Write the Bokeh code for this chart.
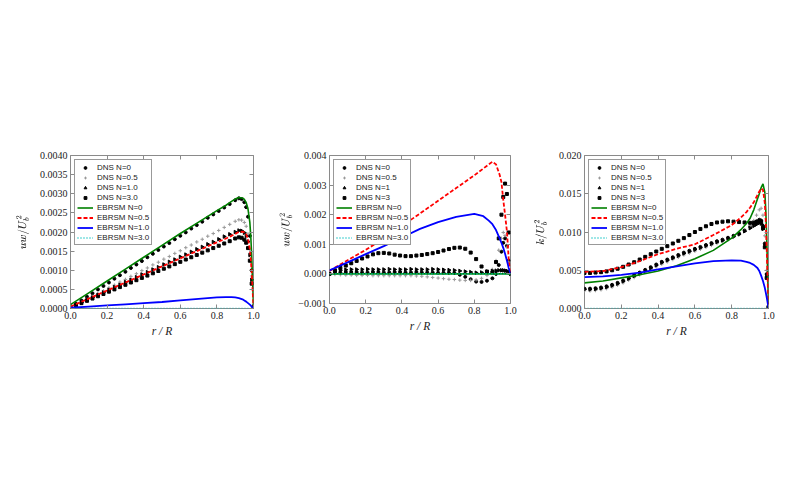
import math
from bokeh.plotting import figure
from bokeh.models import (FixedTicker, CustomJSTickFormatter, LinearAxis,
                          Legend, LegendItem, Range1d)
from bokeh.layouts import row
from bokeh.embed import file_html
from bokeh.resources import INLINE

# ---------------- data ----------------
R_DNS = [0.00, 0.03, 0.06, 0.09, 0.12, 0.15, 0.18, 0.21, 0.24, 0.27, 0.30, 0.33, 0.36,
         0.39, 0.42, 0.45, 0.48, 0.51, 0.54, 0.57, 0.60, 0.63, 0.66, 0.69, 0.72, 0.75,
         0.78, 0.81, 0.84, 0.87, 0.90, 0.92, 0.935, 0.95, 0.96, 0.97, 0.98, 0.99, 1.00]
R_LINE = [0.0, 0.1, 0.2, 0.3, 0.4, 0.5, 0.6, 0.7, 0.8, 0.85, 0.88, 0.9, 0.92, 0.94,
          0.95, 0.96, 0.97, 0.98, 0.985, 0.99, 0.995, 1.0]

# panel 1 : uw / Ub^2  (values in units of 1e-4)
P1_DNS_N0 = [0.3, 1.2, 2.1, 3.1, 4.0, 5.0, 5.9, 6.8, 7.8, 8.7, 9.6, 10.6, 11.5, 12.4, 13.4,
             14.3, 15.3, 16.2, 17.1, 18.1, 19.0, 19.9, 20.9, 21.8, 22.7, 23.7, 24.6, 25.5,
             26.4, 27.3, 28.3, 28.8, 28.6, 27.8, 26.5, 24.0, 19.0, 10.0, 0.5]
P1_DNS_N05 = [0.2, 0.9, 1.6, 2.4, 3.1, 3.9, 4.6, 5.4, 6.1, 6.9, 7.6, 8.4, 9.1, 9.9, 10.6,
              11.4, 12.1, 12.9, 13.6, 14.4, 15.1, 15.9, 16.6, 17.4, 18.1, 18.9, 19.6, 20.4,
              21.2, 22.0, 22.8, 23.2, 23.1, 22.5, 21.5, 19.5, 15.5, 8.5, 0.5]
P1_DNS_N1 = [0.3, 0.9, 1.6, 2.3, 2.9, 3.6, 4.2, 4.9, 5.6, 6.2, 6.9, 7.5, 8.2, 8.9, 9.5,
             10.2, 10.8, 11.5, 12.2, 12.8, 13.5, 14.1, 14.8, 15.5, 16.1, 16.8, 17.4, 18.1,
             18.8, 19.4, 20.0, 20.4, 20.3, 19.8, 19.0, 17.5, 14.0, 7.5, 0.5]
P1_DNS_N3 = [0.2, 0.8, 1.4, 2.0, 2.6, 3.2, 3.8, 4.4, 5.0, 5.6, 6.2, 6.8, 7.4, 8.0, 8.6,
             9.2, 9.8, 10.4, 11.0, 11.6, 12.2, 12.8, 13.4, 14.0, 14.6, 15.2, 15.8, 16.4,
             17.0, 17.6, 18.3, 18.6, 18.5, 18.0, 17.2, 15.8, 12.5, 6.5, 0.3]
P1_EB_N0 = [1.0, 4.1, 7.2, 10.3, 13.4, 16.5, 19.6, 22.6, 25.6, 27.0, 28.0, 28.6, 29.0, 28.9,
            28.5, 27.7, 26.0, 22.5, 19.0, 14.0, 7.5, 0.5]
P1_EB_N05 = [0.5, 2.6, 4.7, 6.8, 8.9, 11.0, 13.1, 15.2, 17.3, 18.3, 19.0, 19.5, 20.0, 20.1,
             19.9, 19.4, 18.2, 15.5, 13.0, 9.5, 5.0, 0.3]
P1_EB_N1 = [0.2, 0.5, 0.8, 1.1, 1.4, 1.7, 2.1, 2.5, 2.9, 3.0, 3.0, 2.9, 2.7, 2.4, 2.1, 1.8,
            1.4, 1.0, 0.8, 0.5, 0.3, 0.1]
P1_EB_N3 = [0.0, 0.0, 0.0, 0.0, 0.0, 0.0, 0.0, 0.0, 0.0, 0.0, 0.0, 0.0, 0.0, 0.0, 0.0, 0.0,
            0.0, 0.0, 0.0, 0.0, 0.0, 0.0]

# panel 2 : uw / Ub^2  (values in units of 1e-4)
P2_DNS_N0 = [0.0, 0.3, 0.5, 0.6, 0.6, 0.6, 0.5, 0.5, 0.6, 0.6, 0.5, 0.5, 0.6, 0.6, 0.5,
             0.5, 0.6, 0.5, 0.5, 0.5, 0.4, 0.4, 0.4, 0.3, -0.3, -1.0, -1.8, -2.6, -2.7,
             -2.3, -1.5, 0.0, 3.0, 7.5, 10.5, 12.0, 9.5, 4.5, 0.0]
P2_DNS_N05 = [0.0, -0.2, -0.3, -0.4, -0.4, -0.5, -0.5, -0.5, -0.6, -0.6, -0.6, -0.6, -0.6,
              -0.6, -0.6, -0.6, -0.7, -0.8, -1.0, -1.2, -1.4, -1.6, -1.8, -1.9, -2.1, -2.2,
              -2.2, -2.0, -1.5, -0.5, 1.5, 4.5, 8.0, 12.0, 14.0, 13.0, 9.0, 4.0, 0.0]
P2_DNS_N1 = [0.0, 0.8, 1.2, 1.4, 1.5, 1.5, 1.5, 1.6, 1.5, 1.5, 1.5, 1.6, 1.5, 1.5, 1.5,
             1.6, 1.5, 1.5, 1.5, 1.6, 1.5, 1.4, 1.3, 1.2, 1.0, 0.8, 0.6, 0.4, 0.5, 0.8,
             1.0, 1.1, 1.2, 1.2, 1.2, 1.1, 1.0, 0.6, 0.0]
P2_DNS_N3 = [0.0, 1.2, 2.0, 2.8, 3.6, 4.4, 5.2, 5.9, 6.6, 7.0, 7.1, 6.9, 6.5, 6.2, 6.0,
             6.0, 6.2, 6.4, 6.7, 7.0, 7.4, 7.9, 8.4, 8.8, 8.9, 8.5, 7.2, 5.0, 2.5, 0.8,
             0.5, 4.0, 12.0, 20.0, 26.0, 30.5, 27.0, 14.0, 0.5]
P2_EB_N0 = [0.0, 0.0, 0.0, 0.0, 0.0, 0.0, 0.0, 0.0, 0.0, 0.0, 0.0, 0.0, 0.0, 0.0, 0.0, 0.0,
            0.0, 0.0, 0.0, 0.0, 0.0, 0.0]
P2_EB_N05 = [1.0, 4.6, 8.1, 12.0, 16.2, 20.4, 24.7, 29.0, 33.3, 35.6, 37.0, 37.9, 37.0,
             33.5, 31.0, 25.0, 20.0, 14.5, 10.0, 5.0, 2.5, 0.3]
P2_EB_N1 = [1.2, 3.9, 6.7, 9.4, 12.3, 15.2, 17.5, 19.3, 20.3, 19.5, 18.0, 16.8, 14.8, 12.0,
            10.5, 8.8, 6.8, 4.5, 3.3, 2.0, 1.0, 0.1]
P2_EB_N3 = [0.0, 0.0, 0.0, 0.0, 0.0, 0.0, 0.0, 0.0, 0.0, 0.0, 0.0, 0.0, 0.0, 0.0, 0.0, 0.0,
            0.0, 0.0, 0.0, 0.0, 0.0, 0.0]

# panel 3 : k / Ub^2  (values in units of 1e-3)
P3_DNS_N0 = [2.6, 2.6, 2.65, 2.75, 2.9, 3.1, 3.35, 3.65, 4.0, 4.35, 4.7, 5.05, 5.4, 5.75,
             6.1, 6.4, 6.7, 7.0, 7.3, 7.55, 7.8, 8.05, 8.3, 8.55, 8.8, 9.0, 9.25, 9.5, 9.8,
             10.2, 10.7, 11.1, 11.4, 11.6, 11.5, 10.8, 8.5, 4.5, 0.2]
P3_DNS_N05 = [2.3, 2.3, 2.35, 2.45, 2.6, 2.8, 3.05, 3.35, 3.7, 4.05, 4.4, 4.75, 5.1, 5.45,
              5.8, 6.1, 6.4, 6.7, 7.0, 7.25, 7.5, 7.75, 8.0, 8.25, 8.5, 8.75, 9.0, 9.3,
              9.65, 10.1, 10.8, 11.5, 12.2, 12.9, 13.1, 12.2, 9.5, 5.0, 0.2]
P3_DNS_N1 = [2.5, 2.5, 2.55, 2.65, 2.8, 3.0, 3.25, 3.55, 3.9, 4.25, 4.6, 4.95, 5.3, 5.65,
             6.0, 6.3, 6.6, 6.9, 7.2, 7.45, 7.7, 7.95, 8.2, 8.45, 8.7, 8.9, 9.15, 9.4, 9.7,
             10.1, 10.5, 10.8, 11.0, 11.2, 11.1, 10.4, 8.2, 4.3, 0.2]
P3_DNS_N3 = [4.65, 4.65, 4.7, 4.75, 4.85, 5.0, 5.2, 5.45, 5.75, 6.05, 6.4, 6.75, 7.1, 7.45,
             7.8, 8.15, 8.5, 8.85, 9.2, 9.6, 10.0, 10.4, 10.75, 11.05, 11.25, 11.35, 11.4,
             11.35, 11.3, 11.25, 11.2, 11.2, 11.3, 11.4, 11.3, 10.5, 8.0, 4.0, 0.2]
P3_EB_N0 = [3.35, 3.6, 4.0, 4.4, 4.9, 5.6, 6.5, 7.6, 9.2, 10.3, 11.1, 11.8, 12.9, 14.3,
            15.0, 15.8, 16.3, 15.2, 13.0, 9.5, 5.0, 0.3]
P3_EB_N05 = [4.8, 4.9, 5.4, 6.2, 7.1, 7.8, 8.4, 9.6, 10.9, 11.9, 12.6, 13.2, 13.9, 14.8,
             15.3, 15.7, 15.5, 13.8, 11.5, 8.0, 4.0, 0.3]
P3_EB_N1 = [4.1, 4.2, 4.4, 4.7, 5.1, 5.5, 5.9, 6.2, 6.3, 6.25, 6.1, 5.95, 5.7, 5.3, 4.9,
            4.3, 3.6, 2.7, 2.1, 1.5, 0.8, 0.1]
P3_EB_N3 = [0.0, 0.0, 0.0, 0.0, 0.0, 0.0, 0.0, 0.0, 0.0, 0.0, 0.0, 0.0, 0.0, 0.0, 0.0, 0.0,
            0.0, 0.0, 0.0, 0.0, 0.0, 0.0]

X_TICKS = [0.0, 0.2, 0.4, 0.6, 0.8, 1.0]
P1_YTICKS = [0.0, 0.0005, 0.001, 0.0015, 0.002, 0.0025, 0.003, 0.0035, 0.004]
P2_YTICKS = [-0.001, 0.0, 0.001, 0.002, 0.003, 0.004]
P3_YTICKS = [0.0, 0.005, 0.01, 0.015, 0.02]

LABELS_P1 = ["DNS N=0", "DNS N=0.5", "DNS N=1.0", "DNS N=3.0",
             "EBRSM N=0", "EBRSM N=0.5", "EBRSM N=1.0", "EBRSM N=3.0"]
LABELS_P23 = ["DNS N=0", "DNS N=0.5", "DNS N=1", "DNS N=3",
              "EBRSM N=0", "EBRSM N=0.5", "EBRSM N=1.0", "EBRSM N=3.0"]

# ---------------- styling ----------------
FRAME = "#8a8a8a"
TXT = "#222222"
SERIF = "Liberation Serif"
SANS = "Liberation Sans"


def sc(values, f):
    return [v * f for v in values]


def make_panel(ymin, ymax, yticks, ydigits, fw, fh, bl, br, bt, bb, ylab, ystand):
    p = figure(frame_width=fw, frame_height=fh, x_range=Range1d(0, 1),
               y_range=Range1d(ymin, ymax), output_backend="svg", toolbar_location=None,
               min_border_left=bl, min_border_right=br, min_border_top=bt,
               min_border_bottom=bb, background_fill_color="white",
               border_fill_color="white")
    p.grid.visible = False
    p.outline_line_color = FRAME
    p.outline_line_width = 1
    bx = p.below[0]
    ly = p.left[0]
    ycode = ("return (tick < -1e-12 ? '\u2212' : '') + Math.abs(tick).toFixed(%d);"
             % ydigits)
    empty = CustomJSTickFormatter(code="return '';")
    bx.ticker = FixedTicker(ticks=X_TICKS, minor_ticks=[])
    bx.formatter = CustomJSTickFormatter(code="return tick.toFixed(1);")
    ly.ticker = FixedTicker(ticks=yticks, minor_ticks=[])
    ly.formatter = CustomJSTickFormatter(code=ycode)
    top = LinearAxis(ticker=FixedTicker(ticks=X_TICKS, minor_ticks=[]), formatter=empty)
    right = LinearAxis(ticker=FixedTicker(ticks=yticks, minor_ticks=[]), formatter=empty)
    p.add_layout(top, "above")
    p.add_layout(right, "right")
    for ax in [bx, ly, top, right]:
        ax.axis_line_color = None
        ax.major_tick_in = 4
        ax.major_tick_out = 0
        ax.major_tick_line_color = FRAME
        ax.minor_tick_line_color = None
        ax.major_label_text_font = SERIF
        ax.major_label_text_font_size = "10px"
        ax.major_label_text_color = TXT
        ax.major_label_standoff = 3
    for ax in [top, right]:
        ax.major_label_text_font_size = "0px"
        ax.major_label_standoff = 0
    bx.axis_label = "r / R"
    bx.axis_label_text_font = SERIF
    bx.axis_label_text_font_style = "italic"
    bx.axis_label_text_font_size = "11.5px"
    bx.axis_label_text_color = TXT
    bx.axis_label_standoff = 3
    ly.axis_label = ylab
    ly.axis_label_text_font = SERIF
    ly.axis_label_text_font_size = "10px"
    ly.axis_label_text_color = TXT
    ly.axis_label_standoff = ystand
    return p


def draw(p, dns, lines, labels):
    rs = []
    rs.append(p.scatter(R_DNS, dns[0], marker="circle", size=3, color="black"))
    rs.append(p.scatter(R_DNS, dns[1], marker="cross", size=3.5, line_color="#999999",
                        line_width=1))
    rs.append(p.scatter(R_DNS, dns[2], marker="triangle", angle=-math.pi / 2, size=3.5,
                        color="black"))
    rs.append(p.scatter(R_DNS, dns[3], marker="square", size=3, color="black"))
    rs.append(p.line(R_LINE, lines[0], line_color="#008000", line_width=1.6))
    rs.append(p.line(R_LINE, lines[1], line_color="#ff0000", line_width=1.8,
                     line_dash="4 2"))
    rs.append(p.line(R_LINE, lines[2], line_color="#0000ff", line_width=1.8))
    rs.append(p.line(R_LINE, lines[3], line_color="#00bfbf", line_width=1.6,
                     line_dash="1 2"))
    items = [LegendItem(label=lab, renderers=[r]) for lab, r in zip(labels, rs)]
    leg = Legend(items=items, location="top_left", margin=4, padding=2, spacing=0,
                 label_height=10, glyph_height=7, glyph_width=16, label_standoff=4,
                 label_text_font=SANS, label_text_font_size="8px",
                 label_text_color=TXT, border_line_color="#333333",
                 border_line_width=1, background_fill_color="white",
                 background_fill_alpha=1.0)
    p.add_layout(leg)


# panel 1 (frame: x 70..253, y 157..310 on the page)
p1 = make_panel(0.0, 0.004, P1_YTICKS, 4, 183, 153, 70, 16, 149, 58,
                r"$$uw/U_b^2$$", 8)
draw(p1, [sc(P1_DNS_N0, 1e-4), sc(P1_DNS_N05, 1e-4), sc(P1_DNS_N1, 1e-4), sc(P1_DNS_N3, 1e-4)],
     [sc(P1_EB_N0, 1e-4), sc(P1_EB_N05, 1e-4), sc(P1_EB_N1, 1e-4), sc(P1_EB_N3, 1e-4)],
     LABELS_P1)

# panel 2 (frame: x 329..510, y 163..311)
p2 = make_panel(-0.001, 0.004, P2_YTICKS, 3, 181, 148, 60, 20, 155, 57,
                r"$$uw/U_b^2$$", 3)
draw(p2, [sc(P2_DNS_N0, 1e-4), sc(P2_DNS_N05, 1e-4), sc(P2_DNS_N1, 1e-4), sc(P2_DNS_N3, 1e-4)],
     [sc(P2_EB_N0, 1e-4), sc(P2_EB_N05, 1e-4), sc(P2_EB_N1, 1e-4), sc(P2_EB_N3, 1e-4)],
     LABELS_P23)

# panel 3 (frame: x 583..767, y 157..310)
p3 = make_panel(0.0, 0.02, P3_YTICKS, 3, 184, 153, 53, 16, 149, 58,
                r"$$k/U_b^2$$", 9)
draw(p3, [sc(P3_DNS_N0, 1e-3), sc(P3_DNS_N05, 1e-3), sc(P3_DNS_N1, 1e-3), sc(P3_DNS_N3, 1e-3)],
     [sc(P3_EB_N0, 1e-3), sc(P3_EB_N05, 1e-3), sc(P3_EB_N1, 1e-3), sc(P3_EB_N3, 1e-3)],
     LABELS_P23)

layout = row(p1, p2, p3)
open("out.html", "w").write(file_html(layout, INLINE))
